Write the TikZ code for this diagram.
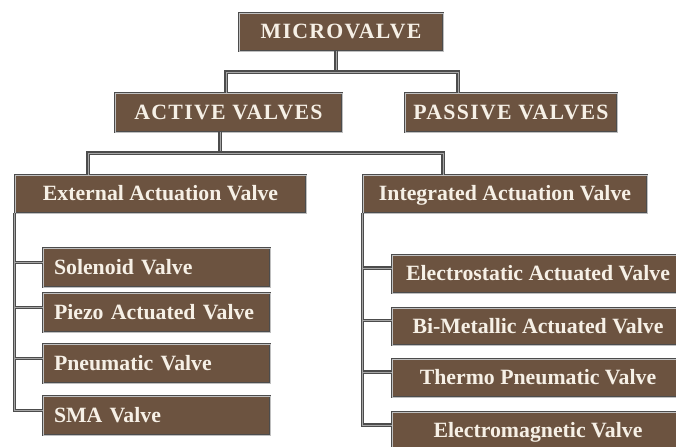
\documentclass[tikz,border=0pt]{standalone}
\usepackage{fontspec}
\setmainfont{Liberation Serif}
\definecolor{boxbrown}{HTML}{6C5340}
\definecolor{boxtext}{HTML}{F6F0E6}
\newcommand{\spaced}[1]{{\addfontfeature{LetterSpace=6}#1}}
\tikzset{
  box/.style={fill=boxbrown, draw=black!70, double=black!25, double distance=0.5pt, line width=0.55pt,
    text=boxtext, font=\bfseries\fontsize{12.4}{14}\selectfont, inner sep=0pt,
    text height=10pt, text depth=2.5pt},
  leaf/.style={box, text width=4.1cm, align=left, inner xsep=0.22cm, minimum height=0.78cm},
  link/.style={draw=black!70, double=black!35, double distance=0.55pt, line width=0.8pt}
}
\begin{document}
\begin{tikzpicture}
\useasboundingbox (0,0) rectangle (13.52,8.92);
\clip (0,0) rectangle (13.52,8.92);

% top
\node (mv)[box, minimum width=4.08cm, minimum height=0.76cm] at (6.82,8.28) {\spaced{MICROVALVE}};

% second row
\node (act)[box, minimum width=4.54cm, minimum height=0.78cm] at (4.57,6.67) {\spaced{ACTIVE VALVES}};
\node (pas)[box, minimum width=4.24cm, minimum height=0.78cm] at (10.22,6.67) {\spaced{PASSIVE VALVES}};

% third row
\node (ext)[box, minimum width=5.82cm, minimum height=0.76cm] at (3.21,5.04) {External Actuation Valve};
\node (int)[box, minimum width=5.68cm, minimum height=0.76cm] at (10.10,5.04) {Integrated Actuation Valve};

% external leaves
\node (sol)[leaf] at (3.13,3.57) {Solenoid Valve};
\node (pie)[leaf] at (3.13,2.67) {Piezo Actuated Valve};
\node (pne)[leaf] at (3.13,1.65) {Pneumatic Valve};
\node (sma)[leaf] at (3.13,0.61) {SMA Valve};

% integrated leaves
\node (els)[box, minimum width=5.84cm, minimum height=0.76cm] at (10.76,3.44) {Electrostatic Actuated Valve};
\node (bim)[box, minimum width=5.84cm, minimum height=0.74cm] at (10.76,2.39) {Bi-Metallic Actuated Valve};
\node (thp)[box, minimum width=5.84cm, minimum height=0.76cm] at (10.76,1.36) {Thermo Pneumatic Valve};
\node (emg)[box, minimum width=5.84cm, minimum height=0.76cm] at (10.76,0.30) {Electromagnetic Valve};

% links from top
\coordinate (b1) at (6.72,7.48);
\coordinate (b1l) at (4.52,7.48);
\coordinate (b1r) at (9.16,7.48);
\draw[link] (b1 |- mv.south) -- (b1);
\draw[link] (b1l |- act.north) -- (b1l) -- (b1r) -- (b1r |- pas.north);

% links from active
\coordinate (b2) at (4.40,5.86);
\coordinate (b2l) at (1.76,5.86);
\coordinate (b2r) at (8.86,5.86);
\draw[link] (b2 |- act.south) -- (b2);
\draw[link] (b2l |- ext.north) -- (b2l) -- (b2r) -- (b2r |- int.north);

% trees
\foreach \n in {sol,pie,pne,sma}
  \coordinate (\n-in) at ([yshift=0.1cm]\n.west);
\foreach \n in {els,bim,thp,emg}
  \coordinate (\n-in) at ([yshift=0.12cm]\n.west);

\draw[link] (ext.south west) -- (ext.south west |- sma-in) -- (sma-in);
\foreach \n in {sol,pie,pne}
  \draw[link] (ext.south west |- \n-in) -- (\n-in);

\draw[link] (int.south west) -- (int.south west |- emg-in) -- (emg-in);
\foreach \n in {els,bim,thp}
  \draw[link] (int.south west |- \n-in) -- (\n-in);

\end{tikzpicture}
\end{document}
